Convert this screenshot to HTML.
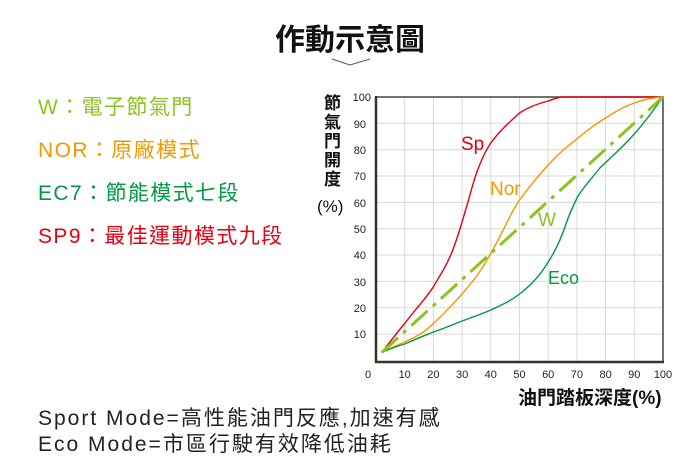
<!DOCTYPE html>
<html><head><meta charset="utf-8"><style>
body{margin:0;background:#fff;width:700px;height:472px;overflow:hidden;font-family:"Liberation Sans","Noto Sans CJK TC",sans-serif;}
.t{position:absolute;white-space:nowrap;}
.l{font-size:21px;letter-spacing:1.4px;}
.b{font-size:21px;letter-spacing:2px;color:#222;}
</style></head><body>
<div class="t" style="left:275px;top:17px;font-size:30px;font-weight:bold;color:#111;font-family:'Noto Sans CJK TC',sans-serif;line-height:40px;">作動示意圖</div>
<svg style="position:absolute;left:0;top:0" width="700" height="472">
<polyline points="332,59 350,65 370,59" fill="none" stroke="#555" stroke-width="1"/>
<g stroke="#d8d8d8" stroke-width="1">
<line x1="404.7" y1="97" x2="404.7" y2="362"/><line x1="433.4" y1="97" x2="433.4" y2="362"/><line x1="462.1" y1="97" x2="462.1" y2="362"/><line x1="490.8" y1="97" x2="490.8" y2="362"/><line x1="519.5" y1="97" x2="519.5" y2="362"/><line x1="548.2" y1="97" x2="548.2" y2="362"/><line x1="576.9" y1="97" x2="576.9" y2="362"/><line x1="605.6" y1="97" x2="605.6" y2="362"/><line x1="634.3" y1="97" x2="634.3" y2="362"/>
<line x1="376" y1="123.3" x2="663" y2="123.3"/><line x1="376" y1="149.7" x2="663" y2="149.7"/><line x1="376" y1="176" x2="663" y2="176"/><line x1="376" y1="202.4" x2="663" y2="202.4"/><line x1="376" y1="228.7" x2="663" y2="228.7"/><line x1="376" y1="255" x2="663" y2="255"/><line x1="376" y1="281.4" x2="663" y2="281.4"/><line x1="376" y1="307.7" x2="663" y2="307.7"/><line x1="376" y1="334" x2="663" y2="334"/>
</g>
<rect x="376" y="97" width="287" height="265" fill="none" stroke="#444" stroke-width="1.5"/>
<line x1="376" y1="96" x2="376" y2="363" stroke="#333" stroke-width="2.5"/>
<line x1="375" y1="362" x2="664" y2="362" stroke="#333" stroke-width="2.5"/>
<g fill="none" stroke-width="1.4" stroke-linejoin="round">
<path d="M381.7,352.5 C393,338 404,324 404.7,323.5 C418,306 428,296 433.4,286.6 C446,266 450,258 453.5,248 C458,236 461,226 465,212 C470,196 472,186 476.5,173 C482,158 486,150 490.8,143 C500,130 510,122 519.5,113 C530,106 540,103 548.2,101 C556,98 560,97 562.6,97 L663,97" stroke="#e60012"/>
<path d="M381.7,352.5 C390,348 398,345 404.7,342 C418,336 426,331 433.4,323.5 C446,312 452,305 462.1,294 C474,280 482,270 490.8,253 C496,245 500,236 505.2,226 C510,216 514,208 519.5,200 C530,186 538,176 548.2,165 C560,152 568,146 576.9,139 C590,128 596,124 605.6,118 C618,110 625,106 634.3,103 C645,99 655,97.5 663,97" stroke="#f39800"/>
<path d="M381.7,352.5 C392,348 398,346 404.7,344 C418,338 426,335 433.4,332 C448,327 454,324 462.1,321 C476,316 484,313 490.8,310 C504,304 512,300 519.5,294 C530,286 540,276 548.2,262 C556,250 562,236 566,224 C570,212 574,204 578,196 C586,184 592,178 599.9,168 C610,158 620,150 634.3,134 C646,121 655,108 663,97" stroke="#009944"/>
</g>
<line x1="381.7" y1="352.5" x2="663" y2="97" stroke="#8dc21f" stroke-width="3" stroke-dasharray="22,7,4,7"/>
<g font-size="11" fill="#222" text-anchor="end">
<text x="371" y="101">100</text><text x="366" y="128">90</text><text x="366" y="154">80</text><text x="366" y="180">70</text><text x="366" y="207">60</text><text x="366" y="233">50</text><text x="366" y="259">40</text><text x="366" y="286">30</text><text x="366" y="312">20</text><text x="366" y="338">10</text>
</g>
<g font-size="11" fill="#222" text-anchor="middle">
<text x="368" y="378">0</text><text x="404.7" y="378">10</text><text x="433.4" y="378">20</text><text x="462.1" y="378">30</text><text x="490.8" y="378">40</text><text x="519.5" y="378">50</text><text x="548.2" y="378">60</text><text x="576.9" y="378">70</text><text x="605.6" y="378">80</text><text x="634.3" y="378">90</text><text x="663" y="378">100</text>
</g>
<text x="461" y="150" font-size="19" fill="#e60012">Sp</text>
<text x="490" y="195" font-size="19" fill="#f39800">Nor</text>
<text x="538" y="226" font-size="19" fill="#8dc21f">W</text>
<text x="548" y="284" font-size="18" fill="#009944">Eco</text>
</svg>
<div class="t" style="left:324px;top:92px;font-size:17px;font-weight:bold;line-height:19px;width:20px;white-space:normal;color:#111;font-family:'Noto Sans CJK TC',sans-serif;">節氣門開度</div>
<div class="t" style="left:317px;top:197px;font-size:17px;color:#111;">(%)</div>
<div class="t" style="left:518px;top:383px;font-size:19px;font-weight:bold;color:#111;font-family:'Liberation Sans','Noto Sans CJK TC',sans-serif;">油門踏板深度(%)</div>
<div class="t l" style="left:38px;top:91px;color:#8dc21f;">W：電子節氣門</div>
<div class="t l" style="left:38px;top:134px;color:#f39800;">NOR：原廠模式</div>
<div class="t l" style="left:38px;top:177px;color:#009944;">EC7：節能模式七段</div>
<div class="t l" style="left:38px;top:220px;color:#e60012;">SP9：最佳運動模式九段</div>
<div class="t b" style="left:38px;top:402px;">Sport Mode=高性能油門反應,加速有感</div>
<div class="t b" style="left:38px;top:428px;">Eco Mode=市區行駛有效降低油耗</div>
</body></html>
